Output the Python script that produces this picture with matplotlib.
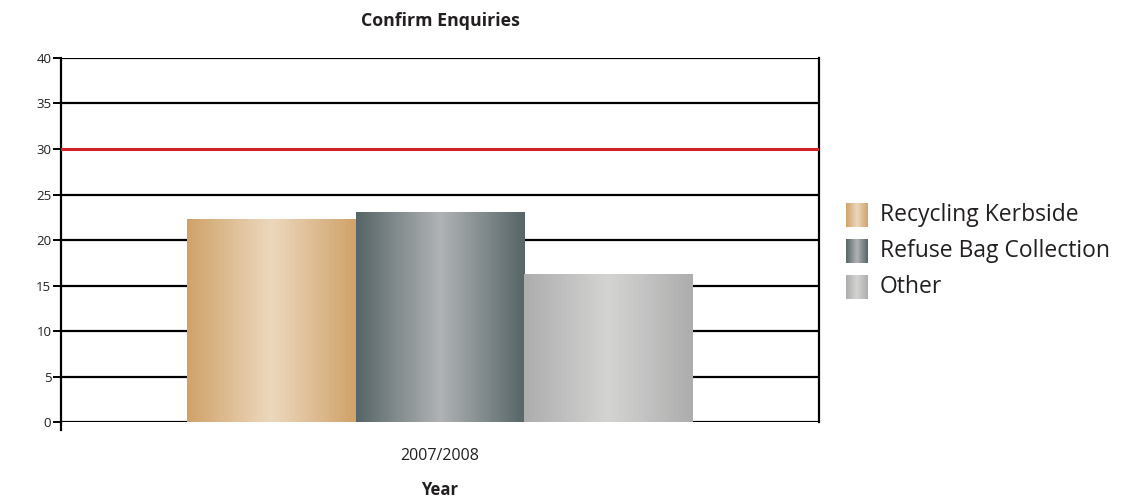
import matplotlib
matplotlib.use('Agg')
import matplotlib.pyplot as plt
import numpy as np
from matplotlib.colors import LinearSegmentedColormap
from matplotlib.patches import Rectangle

plt.rcParams['font.family'] = ['Open Sans', 'DejaVu Sans']

categories = ['2007/2008']
series = ['Recycling Kerbside', 'Refuse Bag Collection', 'Other']
values = [22.3, 23.1, 16.3]
target = 30
yticks = [0, 5, 10, 15, 20, 25, 30, 35, 40]

# edge colour / centre colour for each bar's gradient
grads = [('#D0A269', '#ECD8BD'), ('#566567', '#B1B3B5'), ('#ADADAD', '#D4D4D3')]

text_col = '#231F20'


def grad_cmap(edge, mid):
    return LinearSegmentedColormap.from_list('g', [edge, mid, edge])


fig = plt.figure(figsize=(11.47, 5.03), dpi=100)
ax = fig.add_axes([0.0532, 0.161, 0.6609, 0.7237])

ax.set_xlim(-2.245, 2.245)
ax.set_ylim(0, 40)

grad = np.linspace(0, 1, 256).reshape(1, -1)
offsets = [-1, 0, 1]
for off, v, (edge, mid), name in zip(offsets, values, grads, series):
    x0 = off - 0.5
    rect = Rectangle((x0, 0), 1, v, facecolor='none', edgecolor='none', zorder=3)
    ax.add_patch(rect)
    im = ax.imshow(grad, cmap=grad_cmap(edge, mid), aspect='auto',
                   extent=(x0, x0 + 1, 0, v), zorder=3, interpolation='bicubic')
    im.set_clip_path(rect)

for y in yticks:
    if y == target:
        continue
    ax.axhline(y, color='black', lw=1.6, zorder=1)
ax.axhline(target, color='#D2232A', lw=2.2, zorder=4)

for s in ['top', 'bottom']:
    ax.spines[s].set_visible(False)
for s in ['left', 'right']:
    ax.spines[s].set_linewidth(1.6)
# left axis runs a little below zero
ax.plot([-2.245, -2.245], [0, -0.9], color='black', lw=1.6, clip_on=False)

ax.set_yticks(yticks)
ax.set_yticklabels([str(y) for y in yticks], fontsize=9.5, color=text_col)
ax.tick_params(axis='y', direction='out', length=6, width=1.4, pad=1)
ax.set_xticks([0])
ax.set_xticklabels(categories, fontsize=11.5, color=text_col)
ax.tick_params(axis='x', length=0, pad=19)
ax.set_xlabel('Year', fontsize=12, fontweight='bold', color=text_col, labelpad=12)
ax.set_title('Confirm Enquiries', fontsize=12.8, fontweight='bold', color=text_col, pad=23)

# legend with gradient swatches
leg_y = [0.572, 0.501, 0.429]
for (edge, mid), name, ly in zip(grads, series, leg_y):
    sw = fig.add_axes([846 / 1147, ly - 0.024, 22 / 1147, 0.048])
    sw.imshow(grad, cmap=grad_cmap(edge, mid), aspect='auto', interpolation='bicubic')
    sw.axis('off')
    fig.text(880 / 1147, ly, name, fontsize=16.5, color=text_col, va='center', ha='left')

fig.savefig('out.png', dpi=100)
